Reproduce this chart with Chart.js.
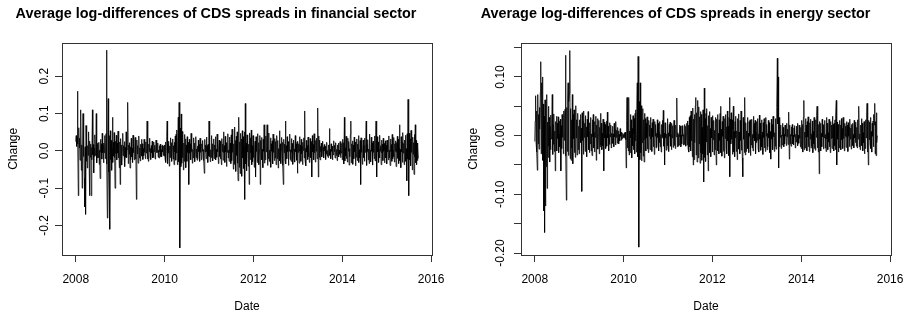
<!DOCTYPE html>
<html><head><meta charset="utf-8">
<script src="https://cdn.jsdelivr.net/npm/chart.js@4"></script>
<style>
html,body{margin:0;padding:0;background:#fff;overflow:hidden;width:904px;height:317px}
canvas{position:absolute;top:0}
#finChart{left:0}
#enChart{left:460px}
</style></head><body>
<canvas id="finChart" width="494" height="317"></canvas>
<canvas id="enChart" width="492" height="317"></canvas>
<script>
/* half-weekly series, first obs at start of 2008 */
const START=2008, FREQ=104;
const YEARS=[2008,2010,2012,2014,2016];
const FIN_YTICKS=[-0.2,-0.1,0,0.1,0.2];
const FIN_YLABELS=['-0.2','-0.1','0.0','0.1','0.2'];
const EN_YTICKS=[-0.2,-0.15,-0.1,-0.05,0,0.05,0.1,0.15];
const EN_YLABELS=['-0.20','','-0.10','','0.00','','0.10',''];

// financial sector, one row per quarter
const FIN=[
.025,.041,.012,.038,.16,.018,-.12,.062,.008,.034,-.025,.021,.11,-.052,.016,-.10,.024,.10,-.015,.032,-.073,-.15,.011,-.17,.068,-.028,
.032,-.046,.014,-.012,.051,-.008,-.12,.026,-.017,.018,-.12,.009,-.024,.11,-.011,.017,-.059,.008,-.015,.043,-.012,.006,.10,-.032,.017,-.019,
.021,-.018,.023,-.036,.002,-.074,.031,-.004,.019,-.022,.047,-.005,.016,-.032,.021,-.005,.041,-.021,.008,.046,.27,-.035,-.18,.042,.14,-.057,
-.11,.041,-.21,.054,-.023,.028,-.052,.007,.09,-.031,.023,-.014,.049,-.018,-.10,.026,-.007,.042,-.024,.021,-.006,.053,-.019,.008,-.045,.024,
-.09,.033,-.011,.016,-.038,.005,.047,-.013,.014,-.006,.025,-.042,.009,-.017,.051,-.018,.004,.028,.13,-.034,.016,-.009,.022,-.046,.011,-.024,
.034,-.016,.007,-.031,.042,-.005,.019,-.024,.003,.036,-.022,.013,-.13,.029,-.008,.014,-.033,.006,.04,-.019,.008,-.027,.018,-.004,.031,-.014,
.019,-.023,.006,-.013,.031,-.004,.014,-.021,.024,-.006,.013,.08,-.022,.005,-.028,.018,-.002,.034,-.016,.007,-.023,.014,-.005,.026,-.019,.004,
-.018,.024,-.002,.015,-.022,.003,.029,-.005,.016,-.004,.021,-.017,.002,-.019,.014,-.003,.018,-.015,.003,-.016,.014,-.003,.016,-.012,.013,-.014,
.016,-.021,.024,-.031,.004,.038,.08,-.034,.019,-.006,.026,-.041,.013,-.018,.035,-.004,.022,-.028,.006,.032,-.022,.014,-.037,.023,-.003,.04,
-.025,.045,-.006,.056,-.037,.028,.09,-.029,.13,.038,-.26,.061,-.042,.099,-.033,.052,-.018,.036,-.051,.021,-.028,.044,-.004,.032,-.045,.016,
-.028,.038,-.004,.023,-.036,-.09,.031,-.006,.019,-.024,.047,-.002,.016,-.033,.004,-.019,.035,-.003,.021,-.029,.002,.038,-.018,.005,-.025,.013,
-.021,.029,-.002,.017,-.028,.034,-.004,.013,-.024,.019,-.001,.028,-.017,.004,-.026,-.06,.031,-.003,.016,-.021,.037,-.002,.014,-.031,.018,-.014,
.08,-.016,.023,-.029,.003,-.018,.041,-.004,.019,-.027,.002,.032,-.021,.016,-.002,.038,-.024,.004,-.017,.045,-.003,.021,-.034,.012,.029,-.015,
.026,-.022,.004,-.037,.033,-.002,.018,-.025,.051,-.005,.014,-.031,.039,-.003,.022,-.042,.017,-.004,.046,-.019,.002,-.028,.037,-.006,.021,-.034,
.043,-.026,.058,-.004,.032,-.049,.019,-.036,.064,-.008,.028,-.055,.039,-.012,.051,-.033,-.08,.056,.09,-.044,.024,-.061,.047,-.006,.032,-.068,
.054,-.019,.038,-.047,.014,.051,-.13,.127,-.035,.021,-.053,.043,-.003,.029,-.041,.018,-.09,.048,-.023,.035,-.005,.056,-.037,.014,-.029,.041,
-.018,.034,-.044,.004,.026,-.07,.038,-.002,.019,-.031,.046,-.006,.022,-.037,.003,.041,-.09,.028,-.004,.036,-.024,.005,-.045,.031,-.001,.07,
-.033,.018,-.024,.04,-.003,.023,.07,-.039,.015,-.021,.048,-.028,.002,-.017,.035,-.044,.019,-.001,.027,-.035,.045,-.004,.017,-.026,.033,-.019,
.025,-.037,.004,.041,-.021,.028,-.046,.006,-.013,.054,-.027,.019,-.034,.002,.036,-.007,.023,-.039,-.09,.031,-.005,.018,-.025,.08,-.035,.014,
-.021,.038,-.002,.025,-.039,.016,-.001,.045,-.023,.003,-.028,.033,-.004,.02,-.036,.001,.029,-.018,.005,-.03,.041,-.002,.018,-.025,.023,-.06,
.026,-.004,.019,-.033,.038,-.001,.016,-.028,.031,-.007,.013,-.037,.023,.001,.035,-.019,.107,-.027,.007,-.04,.028,-.003,.014,-.023,.037,-.016,
.02,-.031,.002,.033,-.018,.025,-.036,-.07,.041,-.003,.017,-.024,.046,-.005,.014,-.03,.028,-.001,.034,-.021,.013,.115,-.07,.04,-.017,.029,
-.024,.012,-.002,.021,-.016,.001,.026,-.004,.011,-.019,.017,.001,.012,-.023,.002,-.009,.023,-.014,.001,-.018,.016,-.002,.06,-.012,.004,-.021,
.019,-.001,.013,-.024,.003,-.011,.027,-.002,.015,-.019,.001,.022,-.012,.004,-.026,.016,-.001,.021,-.016,.002,-.009,.025,-.018,.005,-.006,.02,
-.024,.031,-.003,.022,-.035,.09,-.027,.008,-.014,.039,-.021,.003,-.03,.034,-.001,.025,-.038,.006,-.016,.044,.08,-.032,.019,-.003,.027,-.036,
.016,-.021,.037,-.002,.024,-.04,.004,-.017,.032,-.026,.018,-.001,.041,-.031,.003,-.019,.028,-.09,.035,-.004,.02,-.036,.002,.029,-.018,.015,
-.028,.034,-.004,.022,.08,-.039,.017,-.002,.03,-.024,.005,-.034,.045,-.016,.002,-.029,.037,-.001,.021,-.038,.026,-.004,.016,-.021,.04,-.027,
.019,.08,-.022,-.07,.038,-.003,.024,-.031,.006,-.019,.042,-.001,.014,-.037,.029,-.006,.018,-.026,.034,-.001,.02,-.032,.002,.027,-.019,.015,
-.035,.029,-.003,.021,-.024,.04,-.018,.002,-.039,.032,-.002,.017,-.028,.044,-.021,.003,-.016,.036,-.03,.019,-.001,.027,-.042,.022,-.004,.039,
-.02,.031,-.034,.008,.07,-.026,.004,-.045,.038,-.003,.024,-.031,.049,-.006,.02,-.037,.029,-.001,.042,-.028,.006,-.08,.046,-.022,.138,-.039,
-.12,.047,-.024,.032,-.04,.055,-.004,.026,-.051,.037,-.009,.022,-.063,.044,-.016,.07,-.032,.028,-.037,.021,-.026,.012,-.02];

// energy sector, one row per quarter
const ENERGY=[
-.01,.025,.068,-.011,.042,-.028,-.059,.07,-.014,.036,-.023,.048,.011,.074,.126,-.031,.09,-.008,.10,-.042,.054,-.128,.033,-.165,.061,-.12,
.038,-.053,.07,-.09,.023,-.037,.05,-.018,.031,-.045,.016,-.024,.035,-.006,.028,.07,-.032,.019,-.015,.037,-.027,.008,-.06,.024,-.004,.033,
-.026,.021,-.005,.032,-.029,.003,.025,-.019,.028,-.06,.017,-.022,.036,-.003,.024,-.031,.042,-.008,.029,.045,.137,-.035,-.11,.048,-.027,.062,
.09,-.034,.058,.072,.145,-.039,.046,-.042,.027,-.021,.07,-.048,.036,-.005,.044,-.029,.022,-.037,.051,-.004,.027,-.033,.019,.038,-.024,.016,
-.031,.027,-.004,.036,-.012,.013,-.095,.039,-.008,.025,-.032,.042,-.003,.021,-.027,.034,-.009,.015,-.036,.028,-.002,.041,-.024,.007,-.029,.022,
-.014,.031,-.026,.003,-.034,.027,-.002,.036,-.021,.006,-.028,.024,-.003,.033,-.042,.018,-.005,.029,-.023,.002,.026,-.031,.014,-.019,.038,-.016,
.021,-.024,.004,-.017,.028,-.002,-.06,.023,-.004,.019,-.022,.002,.025,-.018,.04,-.004,.016,-.026,.002,-.015,.022,-.002,.018,-.021,.004,-.013,
.016,-.013,.003,-.019,.021,-.002,.011,-.016,.024,-.003,.009,-.013,.014,-.001,.008,-.014,.002,-.009,.012,-.001,.006,-.008,.002,-.005,.004,-.003,
.002,-.004,.005,-.002,.006,-.007,-.055,.026,.065,-.021,.031,-.026,.065,-.033,.008,-.029,.036,-.004,.027,-.038,.012,-.017,.034,-.024,.003,.029,
-.031,.038,-.009,.044,-.028,.052,.09,-.036,.135,.047,-.19,.058,-.041,.09,-.029,.051,-.043,.033,-.012,.046,-.035,.027,-.045,.038,-.007,.029,
-.026,.021,-.004,.032,-.023,.002,-.029,.026,-.001,.018,-.024,.031,-.006,.013,-.027,.022,-.002,.028,-.019,.004,-.032,.024,-.001,.019,-.021,.004,
-.019,.027,-.003,.021,-.026,.006,-.012,.024,-.019,.002,-.028,.019,-.004,.026,-.002,.043,-.018,.004,-.05,.022,-.004,.018,-.025,.003,-.017,.029,
-.021,.005,-.027,.019,-.001,.023,-.018,.002,-.024,.021,-.004,.017,-.02,.001,.026,-.017,.003,-.022,.018,-.002,.025,.064,-.019,.005,-.018,.002,
-.016,.018,-.002,.016,-.019,.001,-.014,.017,-.001,.015,-.016,.002,-.015,.019,-.003,.016,-.018,.004,.021,-.016,.025,-.022,.018,-.028,.031,-.019,
.034,-.026,.042,-.009,.029,-.036,.047,-.05,.028,-.041,.036,-.012,.051,.065,-.033,.039,-.045,.017,.06,-.038,.049,-.014,.032,-.047,.041,-.029,
.036,-.042,.014,-.031,.044,-.016,-.079,.081,-.037,.029,-.044,.038,-.011,.046,-.033,.017,-.06,.034,-.008,.041,-.029,.012,-.036,.031,-.004,.025,
-.028,.034,-.007,.026,-.033,.009,-.024,.031,-.002,-.05,.028,-.011,.036,-.026,.004,-.031,.027,-.008,.038,.05,-.029,.011,-.035,.024,-.001,.033,
-.027,.009,-.038,.029,-.005,.036,-.022,.015,-.031,.042,-.009,.016,-.034,.031,.065,-.07,.028,-.014,.039,-.006,.027,-.032,.011,.05,-.028,.007,
-.036,.024,-.004,.033,-.027,.008,-.041,.029,-.002,.037,-.023,.006,-.031,.026,-.008,.042,-.025,.003,-.038,-.07,.031,-.006,.024,-.029,.065,-.033,
.022,-.027,.008,-.013,.031,-.022,.004,-.029,.024,-.001,.027,-.034,.009,-.016,.028,-.021,.002,-.026,.033,-.004,.021,-.009,.026,-.031,.006,-.012,
.024,-.008,.029,-.023,.003,-.028,.035,-.006,.021,-.025,.001,.027,-.019,.006,-.032,.022,-.003,.029,-.021,.008,-.027,.031,-.001,.019,-.024,.004,
-.019,.026,-.004,.022,-.029,.007,-.021,-.04,.028,-.006,.019,-.024,.033,-.002,.021,-.027,.005,-.018,.029,-.023,.032,.048,.132,.02,.10,-.055,
.031,-.019,.024,-.003,.018,-.022,.001,-.016,.021,-.001,.014,-.019,.002,-.014,.018,-.001,.013,-.017,.021,-.002,.011,-.015,.016,.04,-.04,.018,
-.014,.002,-.018,.015,-.001,.019,-.014,.001,-.016,.013,-.002,.017,-.021,.002,-.011,.016,-.003,.021,-.017,.001,-.013,.018,-.005,.012,-.019,.014,
-.022,.026,-.007,.019,-.028,.031,.06,-.024,.006,-.021,.029,-.003,.018,-.026,.024,-.002,.032,-.019,.004,-.027,.022,-.006,.028,-.021,.003,-.018,
.025,-.029,.007,-.014,.031,-.022,.002,-.025,.027,-.003,.034,.05,-.021,.006,-.028,.019,-.065,.024,-.007,.021,-.026,.004,-.019,.028,-.002,.017,
-.023,.019,-.004,.026,-.021,.002,-.027,.031,-.006,.021,-.024,.005,-.011,.028,-.019,.003,-.029,.024,-.005,.018,-.022,.033,-.004,.019,-.026,.021,
-.017,.027,-.024,.035,.06,-.05,.023,-.006,.019,-.028,.004,-.021,.026,-.003,.018,-.024,.029,-.007,.012,-.022,.031,-.005,.017,-.026,.021,-.001,
.016,-.02,.024,-.003,.018,-.027,.022,-.001,.015,-.019,.028,-.006,.013,-.023,.019,-.001,.021,-.017,.002,-.021,.026,-.004,.018,-.012,.023,-.018,
.014,-.021,.027,-.006,.022,.05,-.019,.003,-.024,.018,-.001,.029,-.017,.021,-.026,.005,-.012,.024,-.031,.008,-.022,.027,-.004,.031,.055,-.028,
.019,-.05,.026,-.007,.023,-.014,.031,-.022,.007,-.028,.021,-.001,.025,-.019,.036,.018,.055,-.031,.024,-.034,.039,-.012,.00];

const FONT='"Liberation Sans", Arial, Helvetica, sans-serif';
// R-style box round the plot region
const rBox={id:'rBox',afterDraw(c){const a=c.chartArea,g=c.ctx;g.save();g.strokeStyle='#333';g.lineWidth=1;
  g.strokeRect(Math.round(a.left)+.5,Math.round(a.top)+.5,Math.round(a.right-a.left),Math.round(a.bottom-a.top));g.restore();}};

function rPlot(id,title,vals,ymin,ymax,yticks,ylabels,yw,padR){
  const pts=vals.map((v,i)=>({x:START+i/FREQ,y:v}));
  return new Chart(document.getElementById(id),{type:'line',plugins:[rBox],
    data:{datasets:[{data:pts,borderColor:'#000',borderWidth:0.8,pointRadius:0,tension:0,fill:false}]},
    options:{responsive:false,animation:false,events:[],parsing:false,
      layout:{padding:{left:0,right:padR,top:0,bottom:0}},
      plugins:{legend:{display:false},tooltip:{enabled:false},
        title:{display:true,text:title,color:'#000',font:{family:FONT,size:14.4,weight:'bold',lineHeight:1.2},padding:{top:5.3,bottom:20.1}}},
      scales:{
        x:{type:'linear',min:2007.69,max:2016.02,
          afterBuildTicks:s=>{s.ticks=YEARS.map(v=>({value:v}));},
          afterFit:s=>{s.height=62;},
          grid:{drawOnChartArea:false,tickLength:7,color:'#333'},border:{display:false},
          ticks:{color:'#000',font:{family:FONT,size:12},padding:10,maxRotation:0,autoSkip:false,callback:v=>String(v)},
          title:{display:true,text:'Date',color:'#000',font:{family:FONT,size:12,lineHeight:1.2},padding:{top:0,bottom:3.3}}},
        y:{type:'linear',min:ymin,max:ymax,
          afterBuildTicks:s=>{s.ticks=yticks.map(v=>({value:v}));},
          afterFit:s=>{s.width=yw;},
          grid:{drawOnChartArea:false,tickLength:7,color:'#333'},border:{display:false},
          ticks:{color:'#000',font:{family:FONT,size:12},padding:0,minRotation:90,maxRotation:90,crossAlign:'center',autoSkip:false,callback:(v,i)=>ylabels[i]},
          title:{display:true,text:'Change',color:'#000',font:{family:FONT,size:12,lineHeight:1.2},padding:{top:6.7,bottom:0}}}
      }}});
}

rPlot('finChart','Average log-differences of CDS spreads in financial sector',FIN,-0.279,0.290,FIN_YTICKS,FIN_YLABELS,62,62);
rPlot('enChart','Average log-differences of CDS spreads in energy sector',ENERGY,-0.2034,0.1584,EN_YTICKS,EN_YLABELS,61,61);
</script>
</body></html>
